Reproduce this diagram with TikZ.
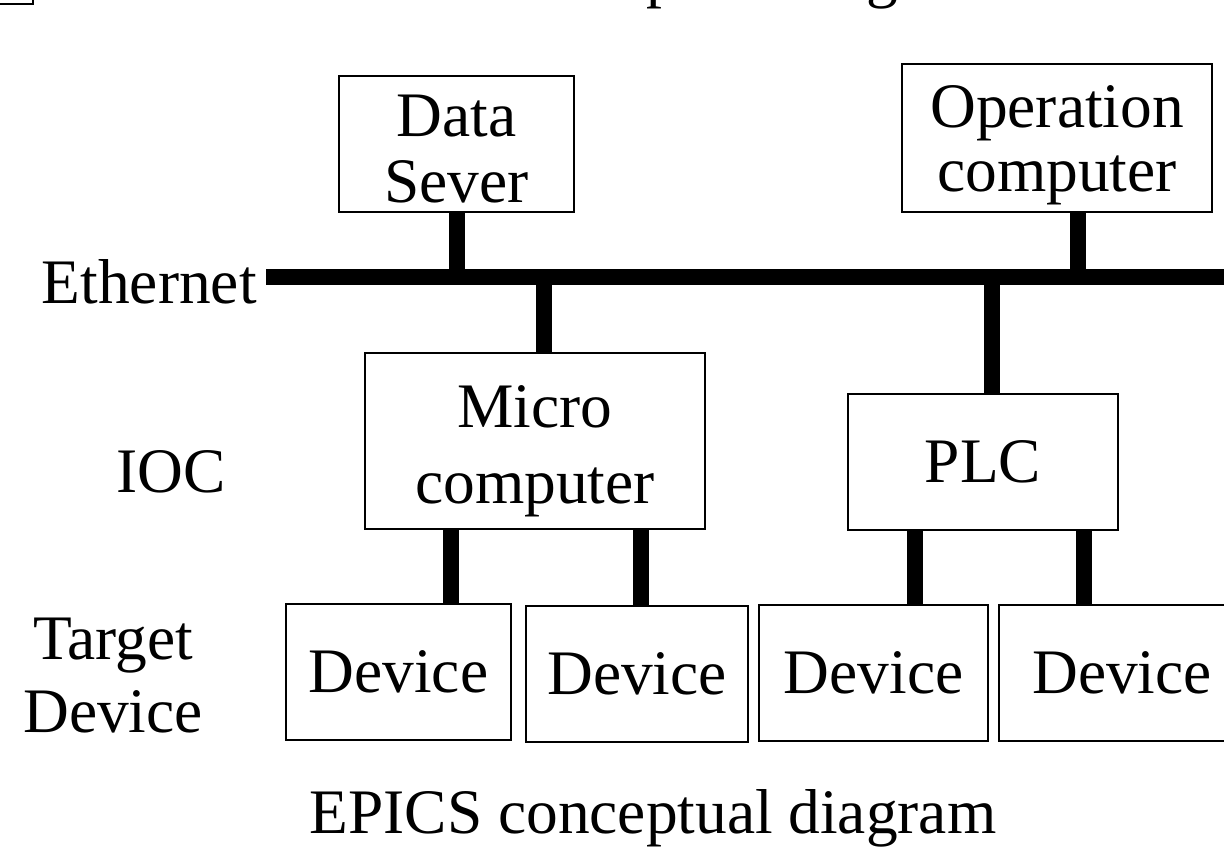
\documentclass[tikz,border=0pt]{standalone}
\usepackage{fontspec}
\setmainfont{Liberation Serif}
\newcommand\diafont{\fontsize{31.7}{33}\selectfont}
\newcommand\topstrut[1]{\rule{0pt}{#1}}
\newcommand\botstrut[1]{\rule[-#1]{0pt}{0pt}}
\begin{document}
\begin{tikzpicture}[x=0.5pt,y=-0.5pt,
  box/.style={draw, line width=1pt, inner sep=0pt, align=center, font=\diafont},
  lbl/.style={inner sep=0pt, align=center, font=\diafont},
  bus/.style={line width=8pt, line cap=butt}]
\useasboundingbox (0,0) rectangle (1224,846);
\clip (0,0) rectangle (1224,846);
% fragment at top-left corner
\draw[line width=1pt] (-10,4) -- (33,4) -- (33,-10);
% boxes
\node[box, minimum width=117.5pt, minimum height=68pt] (ds) at (456.5,144) {\topstrut{25.5pt}Data\\Sever\botstrut{0.5pt}};
\node[box, minimum width=155pt, minimum height=74pt] (op) at (1057,138) {\topstrut{29pt}Operation\\[-1pt]computer\botstrut{8pt}};
\node[box, minimum width=170pt, minimum height=88pt] (mc) at (535,441) {\topstrut{32pt}Micro\\[5pt]computer\botstrut{8pt}};
\node[box, minimum width=135pt, minimum height=68pt] (plc) at (983,462) {PLC};
\node[box, minimum width=112.5pt, minimum height=68pt] (d1) at (398.5,672) {Device};
\node[box, minimum width=111pt, minimum height=68pt] (d2) at (637,674) {Device};
\node[box, minimum width=114.5pt, minimum height=68pt] (d3) at (873.5,673) {Device};
\node[box, minimum width=123pt, minimum height=68pt] (d4) at (1122,673) {Device};
% labels
\node[lbl, anchor=base east] (ethlbl) at (257,303) {Ethernet};
\node[lbl, anchor=base] (ioclbl) at (171,492) {IOC};
\node[lbl] (tdlbl) at (113,675.5) {Target\\[3.5pt]Device};
\node[lbl, anchor=base] (cap) at (653,833) {EPICS conceptual diagram};
\node[lbl, anchor=base] (captop) at (653,-4) {EPICS conceptual diagram};
% ethernet bus
\coordinate (busL) at (266,277);
\coordinate (busR) at (1250,277);
\draw[bus] (busL) -- (busR);
\draw[bus] (ds.south) -- (ds.south |- busL);
\draw[bus] ([xshift=10.5pt]op.south) -- ([xshift=10.5pt]op.south |- busL);
\draw[bus] ([xshift=4.5pt]mc.north) -- ([xshift=4.5pt]mc.north |- busL);
\draw[bus] ([xshift=4.5pt]plc.north) -- ([xshift=4.5pt]plc.north |- busL);
% IOC to devices
\draw[bus] ([xshift=-42pt]mc.south) -- ([xshift=-42pt]mc.south |- d1.north);
\draw[bus] ([xshift=53pt]mc.south) -- ([xshift=53pt]mc.south |- d2.north);
\draw[bus] ([xshift=-34pt]plc.south) -- ([xshift=-34pt]plc.south |- d3.north);
\draw[bus] ([xshift=50.5pt]plc.south) -- ([xshift=50.5pt]plc.south |- d4.north);
\end{tikzpicture}
\end{document}
